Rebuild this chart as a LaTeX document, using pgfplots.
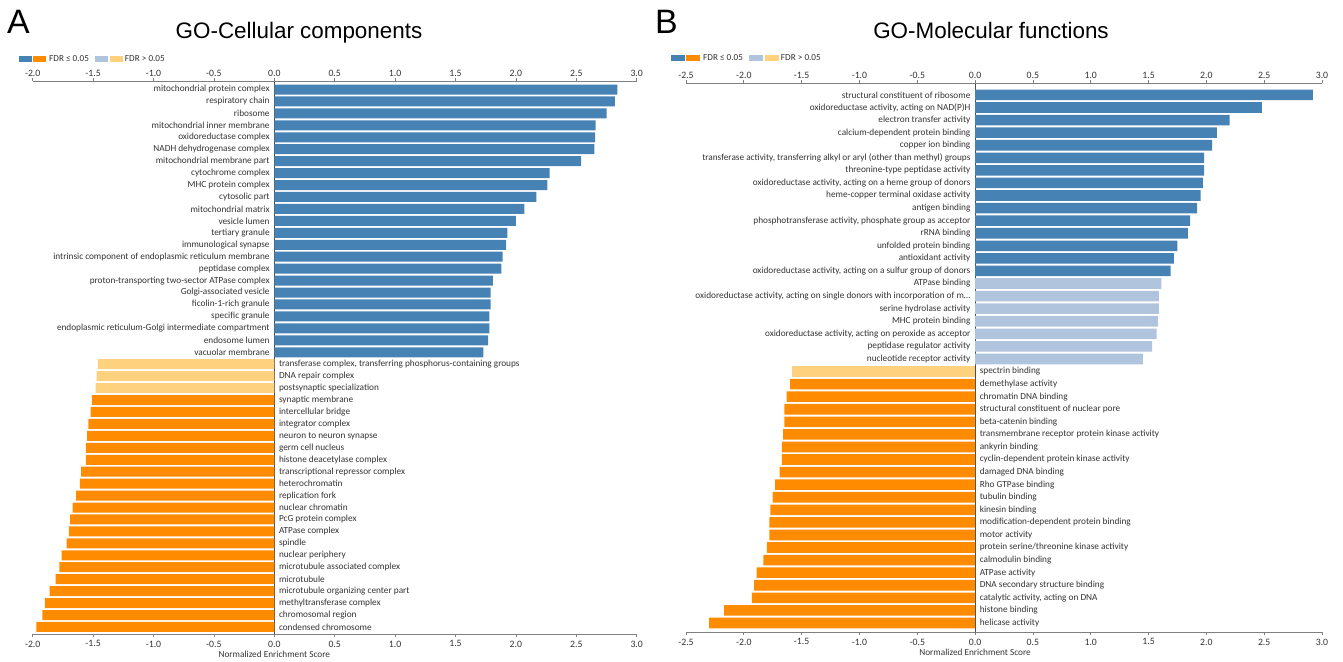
\documentclass[border=0pt]{standalone}
\usepackage{pgfplots}
\pgfplotsset{compat=1.18}
\usepackage{pgfplotstable}
\usepackage{fontspec}
\setmainfont{Carlito}
\newfontfamily\arialfont{Liberation Sans}
\definecolor{cblue}{HTML}{4682B4}
\definecolor{corange}{HTML}{FF8C00}
\definecolor{clblue}{HTML}{B0C4DE}
\definecolor{clorange}{HTML}{FDD17D}
\definecolor{labc}{HTML}{333333}
\definecolor{axc}{HTML}{7F7F7F}
\newcommand\lab{\fontsize{9.3}{10}\selectfont}
\newcommand\tickf{\fontsize{9.8}{10}\selectfont}

\pgfplotstableread[col sep=semicolon, row sep=\\]{
idx;val;lab\\
0;2.84;mitochondrial protein complex\\
1;2.82;respiratory chain\\
2;2.75;ribosome\\
3;2.66;mitochondrial inner membrane\\
4;2.655;oxidoreductase complex\\
5;2.65;NADH dehydrogenase complex\\
6;2.54;mitochondrial membrane part\\
7;2.28;cytochrome complex\\
8;2.26;MHC protein complex\\
9;2.17;cytosolic part\\
10;2.07;mitochondrial matrix\\
11;2.00;vesicle lumen\\
12;1.93;tertiary granule\\
13;1.92;immunological synapse\\
14;1.89;intrinsic component of endoplasmic reticulum membrane\\
15;1.88;peptidase complex\\
16;1.81;proton-transporting two-sector ATPase complex\\
17;1.79;Golgi-associated vesicle\\
18;1.79;ficolin-1-rich granule\\
19;1.78;specific granule\\
20;1.78;endoplasmic reticulum-Golgi intermediate compartment\\
21;1.77;endosome lumen\\
22;1.73;vacuolar membrane\\
}\Ablue
\pgfplotstableread[col sep=semicolon, row sep=\\]{
idx;val;lab\\
23;-1.46;transferase complex, transferring phosphorus-containing groups\\
24;-1.47;DNA repair complex\\
25;-1.48;postsynaptic specialization\\
}\Alorange
\pgfplotstableread[col sep=semicolon, row sep=\\]{
idx;val;lab\\
26;-1.51;synaptic membrane\\
27;-1.52;intercellular bridge\\
28;-1.54;integrator complex\\
29;-1.55;neuron to neuron synapse\\
30;-1.56;germ cell nucleus\\
31;-1.56;histone deacetylase complex\\
32;-1.60;transcriptional repressor complex\\
33;-1.61;heterochromatin\\
34;-1.64;replication fork\\
35;-1.67;nuclear chromatin\\
36;-1.69;PcG protein complex\\
37;-1.70;ATPase complex\\
38;-1.72;spindle\\
39;-1.76;nuclear periphery\\
40;-1.78;microtubule associated complex\\
41;-1.81;microtubule\\
42;-1.86;microtubule organizing center part\\
43;-1.90;methyltransferase complex\\
44;-1.92;chromosomal region\\
45;-1.97;condensed chromosome\\
}\Aorange

\pgfplotstableread[col sep=semicolon, row sep=\\]{
idx;val;lab\\
0;2.92;structural constituent of ribosome\\
1;2.48;oxidoreductase activity, acting on NAD(P)H\\
2;2.20;electron transfer activity\\
3;2.09;calcium-dependent protein binding\\
4;2.05;copper ion binding\\
5;1.98;transferase activity, transferring alkyl or aryl (other than methyl) groups\\
6;1.98;threonine-type peptidase activity\\
7;1.97;oxidoreductase activity, acting on a heme group of donors\\
8;1.95;heme-copper terminal oxidase activity\\
9;1.92;antigen binding\\
10;1.86;phosphotransferase activity, phosphate group as acceptor\\
11;1.84;rRNA binding\\
12;1.75;unfolded protein binding\\
13;1.72;antioxidant activity\\
14;1.69;oxidoreductase activity, acting on a sulfur group of donors\\
}\Bblue
\pgfplotstableread[col sep=semicolon, row sep=\\]{
idx;val;lab\\
15;1.61;ATPase binding\\
16;1.59;oxidoreductase activity, acting on single donors with incorporation of m…\\
17;1.59;serine hydrolase activity\\
18;1.58;MHC protein binding\\
19;1.57;oxidoreductase activity, acting on peroxide as acceptor\\
20;1.53;peptidase regulator activity\\
21;1.45;nucleotide receptor activity\\
}\Blblue
\pgfplotstableread[col sep=semicolon, row sep=\\]{
idx;val;lab\\
22;-1.58;spectrin binding\\
}\Blorange
\pgfplotstableread[col sep=semicolon, row sep=\\]{
idx;val;lab\\
23;-1.60;demethylase activity\\
24;-1.63;chromatin DNA binding\\
25;-1.65;structural constituent of nuclear pore\\
26;-1.65;beta-catenin binding\\
27;-1.66;transmembrane receptor protein kinase activity\\
28;-1.67;ankyrin binding\\
29;-1.67;cyclin-dependent protein kinase activity\\
30;-1.69;damaged DNA binding\\
31;-1.73;Rho GTPase binding\\
32;-1.75;tubulin binding\\
33;-1.77;kinesin binding\\
34;-1.78;modification-dependent protein binding\\
35;-1.78;motor activity\\
36;-1.80;protein serine/threonine kinase activity\\
37;-1.83;calmodulin binding\\
38;-1.89;ATPase activity\\
39;-1.91;DNA secondary structure binding\\
40;-1.93;catalytic activity, acting on DNA\\
41;-2.17;histone binding\\
42;-2.30;helicase activity\\
}\Borange

\pgfplotsset{
  gobase/.style={
    scale only axis,
    axis y line=none,
    x axis line style={draw=axc, line width=0.8pt, -},
    tick align=outside,
    major tick length=3bp,
    xtick style={draw=axc, line width=0.8pt},
    xtick distance=0.5,
    minor xtick={},
    xticklabel style={font=\tickf, text=black!80, inner sep=1.5bp,
      /pgf/number format/fixed, /pgf/number format/fixed zerofill,
      /pgf/number format/precision=1, /pgf/number format/assume math mode=true},
    scaled x ticks=false,
    clip=false,
  },
  poslab/.style={draw=none, mark=none, nodes near coords, point meta=explicit symbolic,
    nodes near coords style={anchor=east, font=\lab, text=labc, inner sep=0pt, xshift=-4.5bp}},
  neglab/.style={draw=none, mark=none, nodes near coords, point meta=explicit symbolic,
    nodes near coords style={anchor=west, font=\lab, text=labc, inner sep=0pt, xshift=4.5bp}},
}

\begin{document}
\begin{tikzpicture}
\useasboundingbox (0,0) rectangle (1343bp,-662bp);

% titles
\node[anchor=base west, inner sep=0pt, font=\arialfont\fontsize{34}{36}\selectfont] at (7bp,-33bp) {A};
\node[anchor=base west, inner sep=0pt, font=\arialfont\fontsize{34}{36}\selectfont] at (655bp,-33bp) {B};
\node[anchor=base, inner sep=0pt, font=\arialfont\fontsize{22.5}{24}\selectfont] at (299bp,-38.5bp) {GO-Cellular components};
\node[anchor=base, inner sep=0pt, font=\arialfont\fontsize{22.5}{24}\selectfont] at (991bp,-38.5bp) {GO-Molecular functions};

% legends
\node[anchor=west, inner sep=0pt, font=\fontsize{9.2}{10}\selectfont, text=labc] at (19bp,-59bp)
  {\textcolor{cblue}{\rule[-0.9bp]{13bp}{6.8bp}}\kern1bp\textcolor{corange}{\rule[-0.9bp]{13bp}{6.8bp}}\kern3bp FDR ≤ 0.05\kern6bp\textcolor{clblue}{\rule[-0.9bp]{13bp}{6.8bp}}\kern2bp\textcolor{clorange}{\rule[-0.9bp]{13bp}{6.8bp}}\kern2bp FDR > 0.05};
\node[anchor=west, inner sep=0pt, font=\fontsize{9.2}{10}\selectfont, text=labc] at (671bp,-58bp)
  {\textcolor{cblue}{\rule[-0.9bp]{14bp}{6.8bp}}\kern1bp\textcolor{corange}{\rule[-0.9bp]{14bp}{6.8bp}}\kern3bp FDR ≤ 0.05\kern6bp\textcolor{clblue}{\rule[-0.9bp]{14bp}{6.8bp}}\kern2bp\textcolor{clorange}{\rule[-0.9bp]{14bp}{6.8bp}}\kern2bp FDR > 0.05};

% ---------- Panel A ----------
\begin{axis}[gobase,
  at={(32.7bp,-634bp)}, anchor=south west,
  width=604bp, height=552.5bp,
  xmin=-2, xmax=3, ymin=-45.59, ymax=0.67,
  axis x line*=bottom,
  xticklabel style={yshift=-2bp},
  extra x ticks={0}, extra x tick labels={},
  extra x tick style={grid=major, major grid style={draw=black!70, line width=0.7pt}, major tick length=0pt},
  xlabel={Normalized Enrichment Score},
  xlabel style={at={(rel axis cs:0.4,0)}, anchor=north, yshift=-17bp, inner sep=0pt, font=\lab, text=labc},
]
\addplot[xbar, bar width=10bp, fill=cblue, draw=none] table[x=val, y expr=-\thisrow{idx}] {\Ablue};
\addplot[xbar, bar width=10bp, fill=clorange, draw=none] table[x=val, y expr=-\thisrow{idx}] {\Alorange};
\addplot[xbar, bar width=10bp, fill=corange, draw=none] table[x=val, y expr=-\thisrow{idx}] {\Aorange};
\addplot[poslab] table[x expr=0, y expr=-\thisrow{idx}, meta=lab] {\Ablue};
\addplot[neglab] table[x expr=0, y expr=-\thisrow{idx}, meta=lab] {\Alorange};
\addplot[neglab] table[x expr=0, y expr=-\thisrow{idx}, meta=lab] {\Aorange};
\end{axis}
\begin{axis}[gobase,
  at={(32.7bp,-634bp)}, anchor=south west,
  width=604bp, height=552.5bp,
  xmin=-2, xmax=3, ymin=-45.59, ymax=0.67,
  axis x line*=top,
]
\end{axis}

% ---------- Panel B ----------
\begin{axis}[gobase,
  at={(686bp,-632bp)}, anchor=south west,
  width=636bp, height=549bp,
  xmin=-2.5, xmax=3, ymin=-42.72, ymax=0.95,
  axis x line*=bottom,
  xticklabel style={yshift=-2bp},
  extra x ticks={0}, extra x tick labels={},
  extra x tick style={grid=major, major grid style={draw=black!70, line width=0.7pt}, major tick length=0pt},
  xlabel={Normalized Enrichment Score},
  xlabel style={at={(rel axis cs:0.454545,0)}, anchor=north, yshift=-17bp, inner sep=0pt, font=\lab, text=labc},
]
\addplot[xbar, bar width=10.6bp, fill=cblue, draw=none] table[x=val, y expr=-\thisrow{idx}] {\Bblue};
\addplot[xbar, bar width=10.6bp, fill=clblue, draw=none] table[x=val, y expr=-\thisrow{idx}] {\Blblue};
\addplot[xbar, bar width=10.6bp, fill=clorange, draw=none] table[x=val, y expr=-\thisrow{idx}] {\Blorange};
\addplot[xbar, bar width=10.6bp, fill=corange, draw=none] table[x=val, y expr=-\thisrow{idx}] {\Borange};
\addplot[poslab] table[x expr=0, y expr=-\thisrow{idx}, meta=lab] {\Bblue};
\addplot[poslab] table[x expr=0, y expr=-\thisrow{idx}, meta=lab] {\Blblue};
\addplot[neglab] table[x expr=0, y expr=-\thisrow{idx}, meta=lab] {\Blorange};
\addplot[neglab] table[x expr=0, y expr=-\thisrow{idx}, meta=lab] {\Borange};
\end{axis}
\begin{axis}[gobase,
  at={(686bp,-632bp)}, anchor=south west,
  width=636bp, height=549bp,
  xmin=-2.5, xmax=3, ymin=-42.72, ymax=0.95,
  axis x line*=top,
]
\end{axis}
\end{tikzpicture}
\end{document}
